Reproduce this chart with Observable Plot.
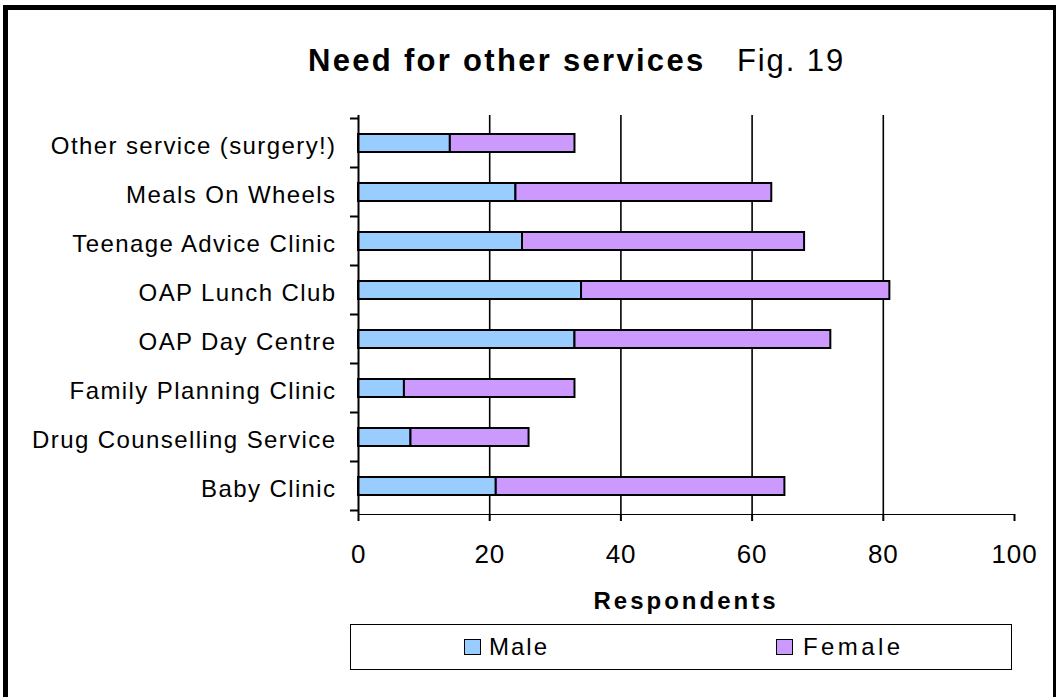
<!DOCTYPE html>
<html>
<head>
<meta charset="utf-8">
<script src="https://cdn.jsdelivr.net/npm/d3@7"></script>
<script src="https://cdn.jsdelivr.net/npm/@observablehq/plot@0.6"></script>
<style>
  html, body { margin: 0; padding: 0; background: #fff; }
  body { width: 1056px; height: 697px; position: relative; overflow: hidden; font-family: "Liberation Sans", Arial, sans-serif; color: #000; }
  #frame { position: absolute; left: 3px; top: 5px; width: 1045px; height: 720px; border: 5px solid #000; border-bottom: none; box-sizing: content-box; }
  #chart { position: absolute; left: 0; top: 100px; }
  #chart svg { overflow: visible; background: transparent; }
  #chart [aria-label^="x-axis"] text { font-size: 26px; letter-spacing: 0.8px; }
  #chart [aria-label^="y-axis"] text { font-size: 24px; letter-spacing: 1.4px; }
  #chart [aria-label^="x-axis"] line, #chart [aria-label^="x-axis"] path { stroke-width: 2px; }
  .t { position: absolute; line-height: 1; white-space: nowrap; }
  #title1 { left: 308px; top: 45px; font-size: 31px; font-weight: bold; letter-spacing: 2.3px; }
  #title2 { left: 737px; top: 45px; font-size: 31px; letter-spacing: 1.9px; }
  #xlabel { left: 0; width: 1372px; text-align: center; top: 589px; font-size: 24px; font-weight: bold; letter-spacing: 3px; }
  #legend { position: absolute; left: 350px; top: 624px; width: 662px; height: 46px; border: 1.5px solid #000; box-sizing: border-box; }
  .sw { position: absolute; width: 17px; height: 16px; border: 1.5px solid #000; box-sizing: border-box; }
  .lt { font-size: 24px; }
</style>
</head>
<body>
<div id="frame"></div>
<div class="t" id="title1">Need for other services</div>
<div class="t" id="title2">Fig. 19</div>
<div id="chart"></div>
<div class="t" id="xlabel"></div>
<div id="legend"></div>
<script>
const categories = ["Other service (surgery!)", "Meals On Wheels", "Teenage Advice Clinic", "OAP Lunch Club", "OAP Day Centre", "Family Planning Clinic", "Drug Counselling Service", "Baby Clinic"];
const male =   [14, 24, 25, 34, 33, 7, 8, 21];
const female = [19, 39, 43, 47, 39, 26, 18, 44];
const series = ["Male", "Female"];
const colors = ["#99CCFF", "#CC99FF"];
const xTicks = [0, 20, 40, 60, 80, 100];
const xTitle = "Respondents";

const data = [];
categories.forEach((c, i) => {
  data.push({category: c, sex: "Male", value: male[i]});
  data.push({category: c, sex: "Female", value: female[i]});
});

const chart = Plot.plot({
  width: 1056,
  height: 520,
  marginLeft: 358,
  marginRight: 42,
  marginTop: 15,
  marginBottom: 106,
  style: {fontFamily: "'Liberation Sans', Arial, sans-serif", color: "#000", background: "transparent", overflow: "visible"},
  x: {domain: [0, 100], ticks: xTicks, tickSize: 7, tickPadding: 23, label: null, line: true},
  y: {domain: categories, paddingInner: 0.64, paddingOuter: 0.32, tickSize: 0, tickPadding: 22, label: null},
  color: {domain: series, range: colors},
  marks: [
    Plot.ruleX(xTicks.filter(d => d > 0 && d < 100), {stroke: "#000", strokeWidth: 1.6}),
    Plot.barX(data, {x: "value", y: "category", fill: "sex", stroke: "#000", strokeWidth: 2, order: series}),
    Plot.ruleX([0], {stroke: "#000", strokeWidth: 2})
  ]
});
document.getElementById("chart").appendChild(chart);

// y-axis tick marks at band boundaries, using Plot's own scales
const ys = chart.scale("y");
const xs = chart.scale("x");
const x0 = xs.apply(0);
const gap = (ys.step - ys.bandwidth) / 2;
const bounds = categories.map(c => ys.apply(c) - gap);
bounds.push(ys.apply(categories[categories.length - 1]) + ys.bandwidth + gap);
d3.select(chart).append("g").attr("aria-label", "y-ticks")
  .selectAll("line").data(bounds).join("line")
  .attr("x1", x0 - 8).attr("x2", x0).attr("y1", d => d).attr("y2", d => d)
  .attr("stroke", "#000").attr("stroke-width", 2);

// align category labels with the bars
d3.select(chart).selectAll('[aria-label^="y-axis"] text').attr("dy", "0.1em");

document.getElementById("xlabel").textContent = xTitle;

// legend
const leg = document.getElementById("legend");
const swLeft = [113, 425];
const txLeft = [138, 452];
series.forEach((s, i) => {
  const sw = document.createElement("div");
  sw.className = "sw";
  sw.style.left = swLeft[i] + "px";
  sw.style.top = "14px";
  sw.style.background = colors[i];
  leg.appendChild(sw);
  const t = document.createElement("div");
  t.className = "t lt";
  t.style.left = txLeft[i] + "px";
  t.style.top = "10px";
  t.style.letterSpacing = (i === 0 ? 2 : 3.4) + "px";
  t.textContent = s;
  leg.appendChild(t);
});
</script>
</body>
</html>
